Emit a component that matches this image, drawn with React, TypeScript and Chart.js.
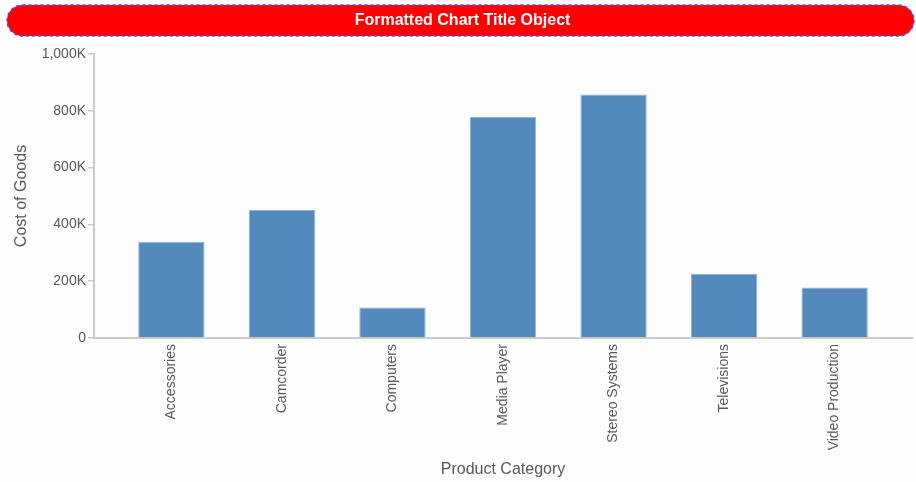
import React, { useEffect, useRef } from "react";
import { Chart, registerables } from "chart.js";

Chart.register(...registerables);

const TITLE = "Formatted Chart Title Object";
const X_TITLE = "Product Category";
const Y_TITLE = "Cost of Goods";
const categories = [
  "Accessories",
  "Camcorder",
  "Computers",
  "Media Player",
  "Stereo Systems",
  "Televisions",
  "Video Production",
];
const costOfGoods = [339000, 451000, 107000, 779000, 857000, 225000, 178000];
const yTicks = [0, 200000, 400000, 600000, 800000, 1000000];

const FONT = '"Liberation Sans", Arial, sans-serif';
const TEXT_COLOR = "#595959";
const AXIS_COLOR = "#cccccc";
const BG = "#fdfdfd";

const titlePlugin = {
  id: "pillTitle",
  beforeDraw(chart: any) {
    const ctx = chart.ctx as CanvasRenderingContext2D;
    ctx.save();
    ctx.fillStyle = BG;
    ctx.fillRect(0, 0, chart.width, chart.height);
    const x = 7, y = 5, w = 907, h = 31, r = 15.5;
    ctx.beginPath();
    (ctx as any).roundRect(x, y, w, h, r);
    ctx.fillStyle = "#ff0000";
    ctx.fill();
    ctx.setLineDash([3, 3]);
    ctx.lineWidth = 1.5;
    ctx.strokeStyle = "#5050f0";
    ctx.stroke();
    ctx.setLineDash([]);
    ctx.fillStyle = "#ffffff";
    ctx.font = `bold 16px ${FONT}`;
    ctx.textAlign = "center";
    ctx.textBaseline = "middle";
    ctx.fillText(TITLE, x + w / 2 + 2, y + h / 2);
    ctx.restore();
  },
};

export default function App() {
  const ref = useRef<HTMLCanvasElement | null>(null);
  useEffect(() => {
    if (!ref.current) return;
    const chart = new Chart(ref.current, {
      type: "bar",
      data: {
        datasets: [
          {
            label: Y_TITLE,
            data: costOfGoods.map((v, i) => ({ x: i, y: v })),
            backgroundColor: "#5389bd",
            borderColor: "#8db2d8",
            borderWidth: 1,
            barPercentage: 0.6,
            categoryPercentage: 1,
          },
        ],
      },
      plugins: [titlePlugin],
      options: {
        responsive: false,
        animation: false,
        layout: { padding: { top: 54, right: 4, left: 0, bottom: 0 } },
        plugins: {
          legend: { display: false },
          title: { display: false },
          tooltip: { enabled: false },
        },
        scales: {
          x: {
            type: "linear",
            min: -0.7,
            max: 6.7,
            bounds: "data",
            offset: false,
            afterBuildTicks: (axis: any) => {
              axis.ticks = categories.map((_, i) => ({ value: i }));
            },
            afterFit: (scale: any) => {
              scale.height = 144;
            },
            grid: { display: true, offset: false, drawOnChartArea: false, drawTicks: false, color: AXIS_COLOR },
            border: { display: true, color: AXIS_COLOR, width: 2 },
            ticks: {
              autoSkip: false,
              minRotation: 90,
              maxRotation: 90,
              padding: 6,
              color: TEXT_COLOR,
              font: { family: FONT, size: 14 },
              callback: (v: any) => categories[v as number] ?? "",
            },
            title: {
              display: true,
              text: X_TITLE,
              color: TEXT_COLOR,
              font: { family: FONT, size: 16 },
              padding: { top: 0, bottom: 3 },
            },
          },
          y: {
            min: 0,
            max: 1000000,
            afterBuildTicks: (axis: any) => {
              axis.ticks = yTicks.map((v) => ({ value: v }));
            },
            afterFit: (scale: any) => {
              scale.width = 94;
            },
            grid: { drawOnChartArea: false, drawTicks: true, tickLength: 6, color: AXIS_COLOR, lineWidth: 1.5 },
            border: { display: true, color: AXIS_COLOR, width: 2 },
            ticks: {
              padding: 2,
              color: TEXT_COLOR,
              font: { family: FONT, size: 14 },
              callback: (v: any) =>
                v === 0 ? "0" : (Number(v) / 1000).toLocaleString("en-US") + "K",
            },
            title: {
              display: true,
              text: Y_TITLE,
              color: TEXT_COLOR,
              font: { family: FONT, size: 16 },
              padding: { top: 12, bottom: 0 },
            },
          },
        },
      },
    } as any);
    return () => chart.destroy();
  }, []);
  return (
    <div style={{ position: "absolute", left: 0, top: 0, width: 916, height: 482, background: BG }}>
      <canvas ref={ref} width={916} height={482} style={{ display: "block" }} />
    </div>
  );
}
